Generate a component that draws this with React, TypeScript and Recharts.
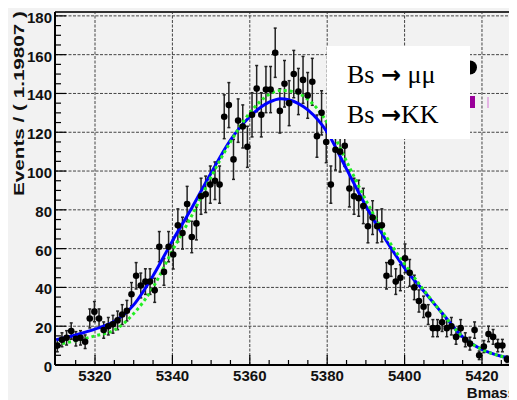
import React from 'react';
import { ComposedChart, XAxis, YAxis, Scatter, Line, ErrorBar, ReferenceLine } from 'recharts';

// Histogram binning (from axis title "Events / ( 1.19807 )")
const BIN_START = 5309.66;
const BIN_WIDTH = 1.19807;

// Data counts per bin
const counts = [
  10, 13, 14, 17.5, 13.5, 14, 12, 24, 27.5, 24,
  18, 20, 21, 23, 26, 28, 36.5, 46, 41, 43,
  43, 38.5, 61, 48, 61, 57, 72, 68, 83, 66,
  73, 87, 88, 93, 95, 93, 128, 134, 106, 126,
  123, 112.5, 129, 142.5, 129, 142, 142, 161, 131, 145,
  135, 150, 141, 147, 139, 146, 118, 130, 115, 93,
  111, 110, 113, 91, 87, 86, 82, 71.5, 76, 71.5,
  72, 46, 53, 43, 45, 55, 47.5, 40, 33, 30,
  26, 19, 19, 22, 19, 20, 14.5, 19, 13, 11,
  18, 5, 9.5, 16, 14.5, 10, 10, 3, 2,
];

const errors = [
  3.2, 3.6, 3.7, 4.2, 3.7, 3.7, 3.5, 4.9, 5.2, 4.9,
  4.2, 4.5, 4.6, 4.8, 5.1, 5.3, 6.0, 6.8, 6.4, 6.6,
  6.6, 6.2, 7.8, 6.9, 7.8, 7.5, 8.5, 8.2, 9.1, 8.1,
  8.5, 9.3, 9.4, 9.6, 9.7, 9.6, 11.3, 11.6, 10.3, 11.2,
  11.1, 10.6, 11.4, 11.9, 11.4, 11.9, 11.9, 12.7, 11.4, 12.0,
  11.6, 12.2, 11.9, 12.1, 11.8, 12.1, 10.9, 11.4, 10.7, 9.6,
  10.5, 10.5, 10.6, 9.5, 9.3, 9.3, 9.1, 8.5, 8.7, 8.5,
  8.5, 6.8, 7.3, 6.6, 6.7, 7.4, 6.9, 6.3, 5.7, 5.5,
  5.1, 4.4, 4.4, 4.7, 4.4, 4.5, 3.8, 4.4, 3.6, 3.3,
  4.2, 2.2, 3.1, 4.0, 3.8, 3.2, 3.2, 1.7, 1.4,
];

const binCenters = counts.map((_, i) => BIN_START + (i + 0.5) * BIN_WIDTH);

// Fit curves
const curveX = [5310, 5315, 5320, 5325, 5330, 5335, 5340, 5345, 5350, 5355, 5360, 5365, 5368, 5370, 5375, 5380, 5385, 5390, 5395, 5400, 5405, 5410, 5415, 5420, 5425, 5429];
const totalFit = [13, 15.5, 18.5, 22.5, 31, 46, 64, 81, 99, 116, 128, 135.5, 137.3, 136.8, 131.5, 120, 101, 82, 65, 50, 38, 26, 14.5, 8, 4.5, 2.7];
const kkFit = [10.5, 12.5, 15, 18, 26.5, 40, 59, 77, 97, 115, 130, 139.5, 141.5, 141.3, 137, 125, 105, 85, 67, 52, 38.5, 26, 14.5, 8, 4.5, 2.7];

const xMajorTicks = [5320, 5340, 5360, 5380, 5400, 5420];
const xAllTicks = [5315, 5320, 5325, 5330, 5335, 5340, 5345, 5350, 5355, 5360, 5365, 5370, 5375, 5380, 5385, 5390, 5395, 5400, 5405, 5410, 5415, 5420, 5425];
const yMajorTicks = [0, 20, 40, 60, 80, 100, 120, 140, 160, 180];
const yAllTicks = [0, 5, 10, 15, 20, 25, 30, 35, 40, 45, 50, 55, 60, 65, 70, 75, 80, 85, 90, 95, 100, 105, 110, 115, 120, 125, 130, 135, 140, 145, 150, 155, 160, 165, 170, 175, 180];

const legendLabels = ['Bs ', ' μμ', 'Bs ', 'KK'];

const points = binCenters.map((x, i) => ({ x, y: counts[i], err: errors[i] }));
const totalCurve = curveX.map((x, i) => ({ x, y: totalFit[i] }));
const kkCurve = curveX.map((x, i) => ({ x, y: kkFit[i] }));

const FONT = '"Liberation Sans", Arial, Helvetica, sans-serif';

const XTick = (props: any) => {
  const { x, y, payload } = props;
  const v = payload.value;
  const major = xMajorTicks.includes(v);
  return (
    <g>
      <line x1={x} x2={x} y1={y} y2={y - (major ? 10 : 5)} stroke="#000" strokeWidth={1.2} />
      {major && (
        <text x={x} y={y + 16} textAnchor="middle" fontFamily={FONT} fontWeight="bold" fontSize={15} fill="#111">
          {v}
        </text>
      )}
    </g>
  );
};

const YTick = (props: any) => {
  const { x, y, payload } = props;
  const v = payload.value;
  const major = yMajorTicks.includes(v);
  return (
    <g>
      <line x1={x} x2={x + (major ? 11 : 6)} y1={y} y2={y} stroke="#000" strokeWidth={1.2} />
      {major && (
        <text x={x - 3} y={y + 7} textAnchor="end" fontFamily={FONT} fontWeight="bold" fontSize={15} fill="#111">
          {v}
        </text>
      )}
    </g>
  );
};

const Dot = (p: any) => <circle cx={p.cx} cy={p.cy} r={3.3} fill="#000" />;

export default function App() {
  return (
    <div style={{ position: 'relative', width: 509, height: 392, background: '#f2f2f2' }}>
      <ComposedChart width={509} height={392} margin={{ top: 4, right: 0, bottom: 0, left: 0 }}>
        <XAxis
          type="number"
          dataKey="x"
          domain={[5309.66, 5429.05]}
          allowDataOverflow
          ticks={xAllTicks}
          interval={0}
          tick={<XTick />}
          tickLine={false}
          tickSize={0}
          tickMargin={0}
          height={35}
          axisLine={{ stroke: '#000', strokeWidth: 2 }}
        />
        <YAxis
          type="number"
          dataKey="y"
          domain={[0, 182]}
          allowDataOverflow
          ticks={yAllTicks}
          interval={0}
          tick={<YTick />}
          tickLine={false}
          tickSize={0}
          tickMargin={0}
          width={47}
          axisLine={{ stroke: '#000', strokeWidth: 2 }}
        />
        {xMajorTicks.map((v) => (
          <ReferenceLine key={'gx' + v} x={v} stroke="#444" strokeWidth={1} strokeDasharray="3 1.5" />
        ))}
        {yMajorTicks.filter((v) => v > 0).map((v) => (
          <ReferenceLine key={'gy' + v} y={v} stroke="#444" strokeWidth={1} strokeDasharray="3 1.5" />
        ))}
        <ReferenceLine y={182} stroke="#333" strokeWidth={2} />
        <Scatter data={points} fill="#000" shape={<Dot />} isAnimationActive={false}>
          <ErrorBar dataKey="err" direction="y" width={1.5} stroke="#222" strokeWidth={1.5} />
        </Scatter>
        <Line data={totalCurve} dataKey="y" type="monotone" stroke="#0000ff" strokeWidth={3} dot={false} isAnimationActive={false} />
        <Line data={kkCurve} dataKey="y" type="monotone" stroke="#22ee22" strokeWidth={3} strokeDasharray="3 3" dot={false} isAnimationActive={false} />
      </ComposedChart>
      <svg
        width={509}
        height={392}
        style={{ position: 'absolute', left: 0, top: 0, overflow: 'visible', pointerEvents: 'none' }}
      >
        <text
          transform="translate(10.5,95.5) rotate(-90)"
          textAnchor="middle"
          dominantBaseline="central"
          fontFamily={FONT}
          fontWeight="bold"
          fontSize={15}
          fill="#111"
          textLength={185}
          lengthAdjust="spacingAndGlyphs"
        >
          Events / ( 1.19807 )
        </text>
        <text x={508} y={390} textAnchor="end" fontFamily={FONT} fontWeight="bold" fontSize={15} fill="#111">
          Bmass
        </text>
        <circle cx={462} cy={59.5} r={7} fill="#000" />
        <rect x={455} y={88} width={12} height={12} fill="#990099" />
        <line x1={480} x2={480} y1={89} y2={100} stroke="#e0a0e0" strokeWidth={1.5} />
        <rect x={319} y={38} width={143} height={93} fill="#ffffff" />
        <text x={339} y={75} fontFamily='"Liberation Serif", "Times New Roman", serif' fontSize={26} fill="#000">
          {legendLabels[0]}
          <tspan fontFamily='"DejaVu Sans", sans-serif' fontWeight="bold" fontSize={24}>→</tspan>
          {legendLabels[1]}
        </text>
        <text x={339} y={115} fontFamily='"Liberation Serif", "Times New Roman", serif' fontSize={26} fill="#000">
          {legendLabels[2]}
          <tspan fontFamily='"DejaVu Sans", sans-serif' fontWeight="bold" fontSize={24}>→</tspan>
          {legendLabels[3]}
        </text>
      </svg>
    </div>
  );
}
